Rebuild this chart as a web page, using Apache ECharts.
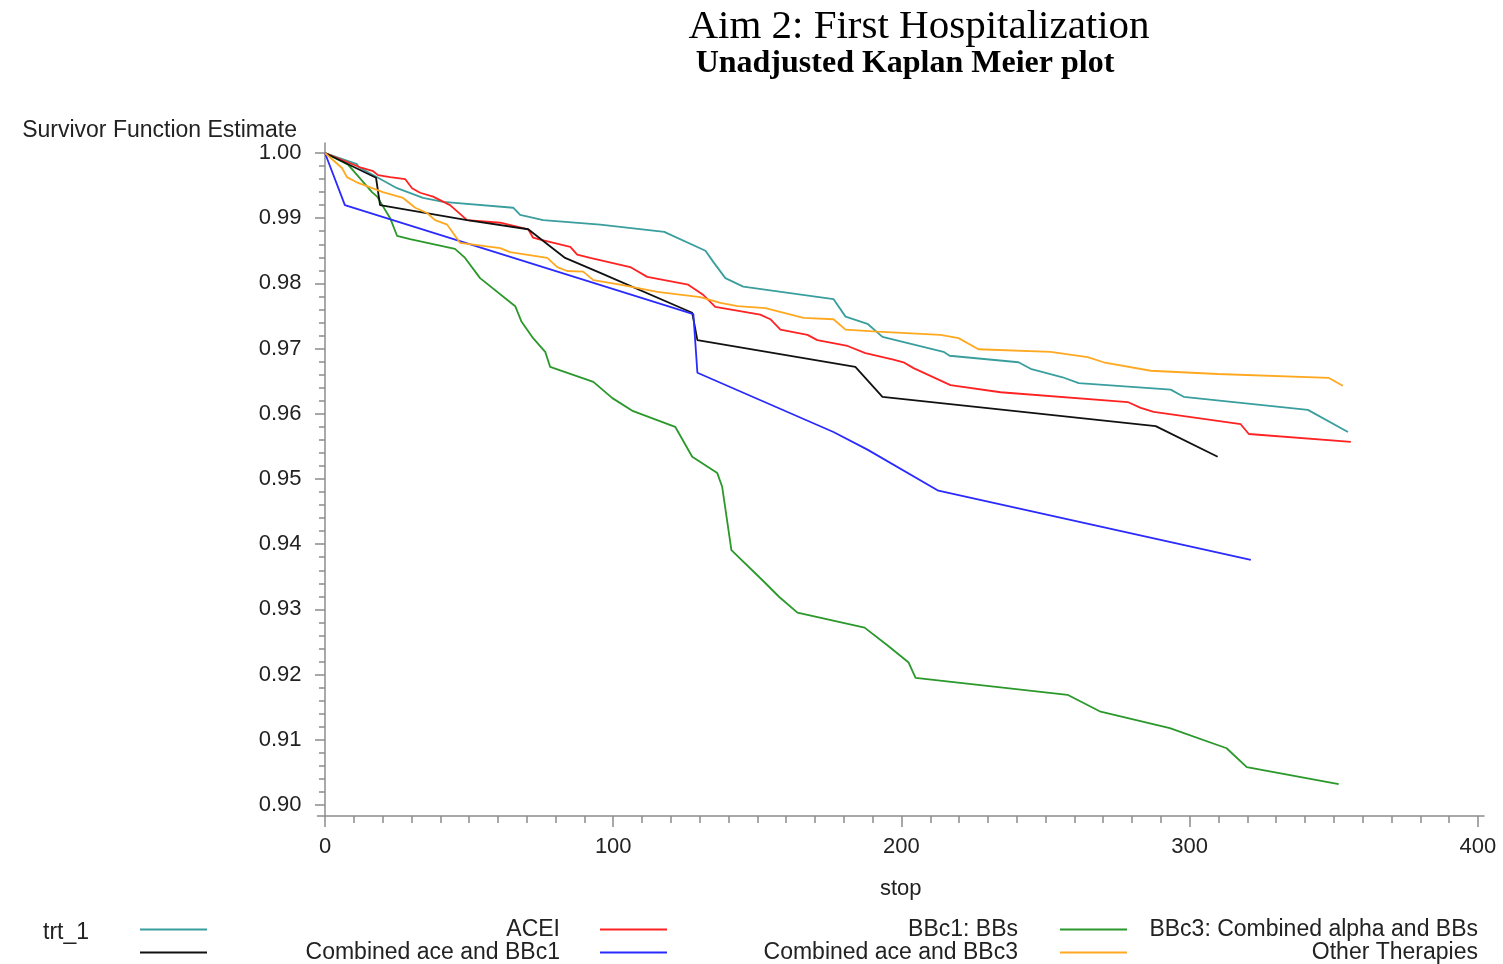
<!DOCTYPE html>
<html>
<head>
<meta charset="utf-8">
<script src="https://cdn.jsdelivr.net/npm/echarts@6/dist/echarts.min.js"></script>
<style>html,body{margin:0;padding:0;background:#fff;}#c{width:1503px;height:964px;}</style>
</head>
<body>
<div id="c"></div>
<script>
// ---- data ----
const seriesNames = ['ACEI', 'BBc1: BBs', 'BBc3: Combined alpha and BBs',
  'Combined ace and BBc1', 'Combined ace and BBc3', 'Other Therapies'];

const acei_t = [0, 11.1, 11.5, 25, 34, 41, 65.3, 67.7, 75.7, 95.5, 117.7, 132, 134.7, 138.9, 145.1, 176.4, 180.6, 188.2, 193.4, 214.6, 216.7, 240.6, 244.8, 255.9, 261.5, 293.4, 297.9, 341, 354.9];
const acei_s = [1.0, 0.9983, 0.9979, 0.9946, 0.9931, 0.9925, 0.9916, 0.9905, 0.9897, 0.9890, 0.9879, 0.9850, 0.9833, 0.9808, 0.9795, 0.9776, 0.9749, 0.9738, 0.9718, 0.9695, 0.9689, 0.9679, 0.9669, 0.9656, 0.9647, 0.9637, 0.9626, 0.9606, 0.9572];

const bbc1_t = [0, 12.8, 16.7, 18.4, 22.6, 27.8, 30.2, 33, 37.5, 43.4, 49.3, 60.8, 70.5, 72.2, 74.7, 85.1, 87.5, 92, 105.9, 111.8, 126, 131.3, 135.4, 151, 154.5, 158, 167.4, 170.8, 181.3, 187.5, 197.2, 200.7, 204.2, 217, 234.4, 278.5, 283, 287.5, 317.7, 320.5, 355.9];
const bbc1_s = [1.0, 0.9977, 0.9972, 0.9966, 0.9963, 0.9960, 0.9946, 0.9939, 0.9933, 0.9920, 0.9897, 0.9893, 0.9883, 0.9870, 0.9867, 0.9856, 0.9844, 0.9839, 0.9825, 0.9810, 0.9798, 0.9782, 0.9764, 0.9752, 0.9745, 0.9729, 0.9721, 0.9713, 0.9704, 0.9693, 0.9683, 0.9679, 0.9670, 0.9644, 0.9633, 0.9618, 0.9609, 0.9603, 0.9584, 0.9569, 0.9557];

const bbc3_t = [0, 8, 16.3, 18.1, 22.6, 25, 29.5, 45.1, 48.6, 53.8, 66, 68.1, 72.2, 76.4, 78.1, 93.1, 99.7, 106.9, 121.5, 127.4, 136.1, 137.8, 141, 152.4, 157.6, 163.9, 187.2, 195.1, 202.4, 204.9, 257.6, 269.1, 293.1, 312.8, 319.8, 351.7];
const bbc3_s = [1.0, 0.9982, 0.9940, 0.9933, 0.9900, 0.9873, 0.9868, 0.9853, 0.9839, 0.9808, 0.9765, 0.9742, 0.9716, 0.9695, 0.9672, 0.9649, 0.9624, 0.9604, 0.9580, 0.9534, 0.9509, 0.9488, 0.9391, 0.9342, 0.9319, 0.9295, 0.9272, 0.9245, 0.9219, 0.9195, 0.9169, 0.9143, 0.9118, 0.9087, 0.9058, 0.9032];

const comb1_t = [0, 17.7, 19.1, 49.3, 70.5, 83.3, 95.5, 127.4, 129.2, 184, 193.4, 288.2, 309.7];
const comb1_s = [1.0, 0.9962, 0.9920, 0.9897, 0.9883, 0.9839, 0.9816, 0.9755, 0.9713, 0.9672, 0.9626, 0.9581, 0.9534];

const comb3_t = [0, 6.9, 127.8, 129.2, 176.4, 188.2, 212.8, 321.2];
const comb3_s = [1.0, 0.9920, 0.9753, 0.9663, 0.9572, 0.9545, 0.9482, 0.9376];

const other_t = [0, 5.9, 7.6, 11.5, 20.1, 27.1, 31.3, 35.4, 38.2, 42.4, 46.9, 60.8, 64.2, 77.1, 80.6, 84, 89.6, 93.1, 102.4, 115.3, 130.2, 137.2, 143.1, 152.8, 166, 176.4, 180.6, 191.7, 213.5, 219.8, 226.7, 251.7, 264.6, 270.1, 286.5, 309.7, 348.3, 353.1];
const other_s = [1.0, 0.9977, 0.9963, 0.9954, 0.9940, 0.9931, 0.9916, 0.9908, 0.9897, 0.9890, 0.9862, 0.9854, 0.9848, 0.9839, 0.9825, 0.9819, 0.9818, 0.9805, 0.9798, 0.9787, 0.9779, 0.9770, 0.9765, 0.9762, 0.9747, 0.9745, 0.9729, 0.9726, 0.9721, 0.9716, 0.9699, 0.9695, 0.9687, 0.9679, 0.9666, 0.9661, 0.9655, 0.9643];

const xTickLabels = [0, 100, 200, 300, 400];
const yTickLabels = [0.90, 0.91, 0.92, 0.93, 0.94, 0.95, 0.96, 0.97, 0.98, 0.99, 1.00];

// ---- chart ----
const colors = ['#3a9e9e', '#ff2222', '#2a982a', '#111111', '#2a2aff', '#ffa820'];
const times = [acei_t, bbc1_t, bbc3_t, comb1_t, comb3_t, other_t];
const survs = [acei_s, bbc1_s, bbc3_s, comb1_s, comb3_s, other_s];

const xMinor = [];
for (let v = 10; v < 400; v += 10) if (v % 100 !== 0) xMinor.push(v);
const yMinor = [];
for (let i = 1; i < 50; i++) if (i % 5 !== 0) yMinor.push(+(0.90 + i * 0.002).toFixed(3));

const SANS = 'Liberation Sans, Arial, sans-serif';
const SERIF = 'Liberation Serif, Times New Roman, serif';
const axisGray = '#8c8c8c';
const XMIN = -2.6, XMAX = 402.1, YMIN = 0.89831, YMAX = 1.00153;

const series = seriesNames.map((n, i) => ({
  name: n,
  type: 'line',
  xAxisIndex: 0, yAxisIndex: 0,
  data: times[i].map((t, j) => [t, survs[i][j]]),
  showSymbol: false,
  symbol: 'none',
  color: colors[i],
  lineStyle: { width: 1.8, color: colors[i] },
  animation: false,
  z: 2
}));

function legendCol(names, left, w) {
  return {
    orient: 'vertical',
    left: left, top: 918,
    padding: 0,
    height: 46,
    itemWidth: 67, itemHeight: 2,
    itemGap: 0,
    icon: 'rect',
    selectedMode: false,
    data: names,
    formatter: (name) => '{r|' + name + '}',
    textStyle: {
      fontFamily: SANS, fontSize: 23, color: '#222', lineHeight: 21,
      rich: { r: { width: w, align: 'right', fontFamily: SANS, fontSize: 23, color: '#222', lineHeight: 21 } }
    }
  };
}

const option = {
  backgroundColor: '#fff',
  animation: false,
  title: [
    { text: 'Aim 2: First Hospitalization', left: 914, top: 2, textAlign: 'center',
      textStyle: { fontFamily: SERIF, fontSize: 41, fontWeight: 'normal', color: '#000' } },
    { text: 'Unadjusted Kaplan Meier plot', left: 900, top: 43, textAlign: 'center',
      textStyle: { fontFamily: SERIF, fontSize: 32, fontWeight: 'bold', color: '#000' } },
    { text: 'trt_1', left: 38, top: 916,
      textStyle: { fontFamily: SANS, fontSize: 23, fontWeight: 'normal', color: '#222' } }
  ],
  legend: [
    legendCol([seriesNames[0], seriesNames[3]], 140, 348),
    legendCol([seriesNames[1], seriesNames[4]], 600, 346),
    legendCol([seriesNames[2], seriesNames[5]], 1060, 346)
  ],
  grid: { left: 317.5, right: 19, top: 143, bottom: 148, containLabel: false },
  xAxis: [
    {
      type: 'value', min: XMIN, max: XMAX, position: 'bottom',
      name: 'stop', nameLocation: 'middle', nameGap: 62,
      nameTextStyle: { fontFamily: SANS, fontSize: 22, color: '#222' },
      axisLine: { show: true, lineStyle: { color: axisGray, width: 1.5 } },
      axisTick: { show: true, customValues: xTickLabels, length: 11, lineStyle: { color: axisGray, width: 1.5 } },
      axisLabel: { show: true, customValues: xTickLabels, margin: 20, fontFamily: SANS, fontSize: 22, color: '#222' },
      splitLine: { show: false }
    },
    {
      type: 'value', min: XMIN, max: XMAX, position: 'bottom', gridIndex: 0,
      axisLine: { show: false },
      axisTick: { show: true, customValues: xMinor, length: 7, lineStyle: { color: axisGray, width: 1.5 } },
      axisLabel: { show: false },
      splitLine: { show: false }
    }
  ],
  yAxis: [
    {
      type: 'value', min: YMIN, max: YMAX, position: 'left',
      name: 'Survivor Function Estimate', nameLocation: 'end', nameGap: 1,
      nameTextStyle: { fontFamily: SANS, fontSize: 23, color: '#222', align: 'right', verticalAlign: 'bottom', padding: [0, 28, 0, 0] },
      axisLine: { show: true, lineStyle: { color: axisGray, width: 1.5 } },
      axisTick: { show: true, customValues: yTickLabels, length: 10, lineStyle: { color: axisGray, width: 1.5 } },
      axisLabel: { show: true, customValues: yTickLabels, margin: 16, fontFamily: SANS, fontSize: 22, color: '#222',
        formatter: (v) => v.toFixed(2) },
      splitLine: { show: false }
    },
    {
      type: 'value', min: YMIN, max: YMAX, position: 'left', gridIndex: 0,
      axisLine: { show: false },
      axisTick: { show: true, customValues: yMinor, length: 6, lineStyle: { color: axisGray, width: 1.5 } },
      axisLabel: { show: false },
      splitLine: { show: false }
    }
  ],
  series: series
};

const chart = echarts.init(document.getElementById('c'), null, { renderer: 'canvas' });
chart.setOption(option);
</script>
</body>
</html>
